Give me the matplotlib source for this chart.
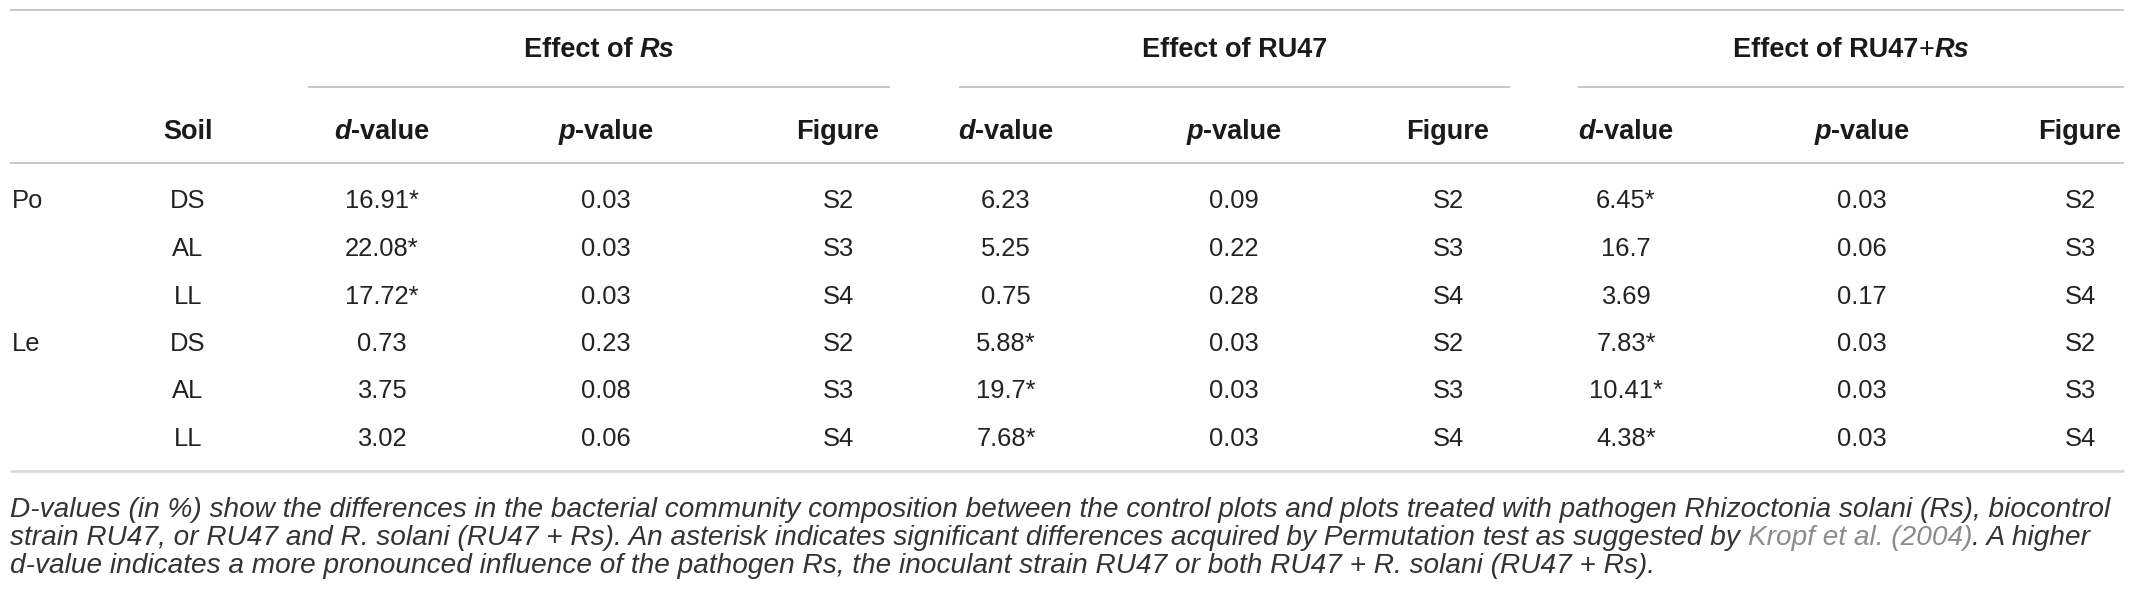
import matplotlib
matplotlib.use("Agg")
import matplotlib.pyplot as plt

# table content
groups = ["Rs", "RU47", "RU47+Rs"]
plants = ["Po", "", "", "Le", "", ""]
soils = ["DS", "AL", "LL", "DS", "AL", "LL"]
d_rs = ["16.91*", "22.08*", "17.72*", "0.73", "3.75", "3.02"]
p_rs = ["0.03", "0.03", "0.03", "0.23", "0.08", "0.06"]
d_ru = ["6.23", "5.25", "0.75", "5.88*", "19.7*", "7.68*"]
p_ru = ["0.09", "0.22", "0.28", "0.03", "0.03", "0.03"]
d_both = ["6.45*", "16.7", "3.69", "7.83*", "10.41*", "4.38*"]
p_both = ["0.03", "0.06", "0.17", "0.03", "0.03", "0.03"]
figs = ["S2", "S3", "S4", "S2", "S3", "S4"]

caption = [
    [("D-values (in %) show the differences in the bacterial community composition between the control "
      "plots and plots treated with pathogen Rhizoctonia solani (Rs), biocontrol", None)],
    [("strain RU47, or RU47 and R. solani (RU47 + Rs). An asterisk indicates significant differences "
      "acquired by Permutation test as suggested by ", None),
     ("Kropf et al. (2004)", "#8c8c8c"),
     (". A higher", None)],
    [("d-value indicates a more pronounced influence of the pathogen Rs, the inoculant strain RU47 "
      "or both RU47 + R. solani (RU47 + Rs).", None)],
]

plt.rcParams['font.family'] = ['Liberation Sans', 'DejaVu Sans']

W, H = 2129, 600
TXT = "#222222"
RULE = "#b8b8b8"

fig = plt.figure(figsize=(W / 100, H / 100), dpi=100)
ax = fig.add_axes([0, 0, 1, 1])
ax.set_xlim(0, W)
ax.set_ylim(H, 0)
ax.axis("off")
renderer = fig.canvas.get_renderer()

body_fs = 18.4
head_fs = 19.5


def half_cap(fs):
    # half of the cap height in pixels, used to go from text centre to baseline
    return 0.36 * fs * 100 / 72


def rich(x, y, parts, ha="center", fs=body_fs, weight="normal", base_style="normal", color=TXT):
    """place a run of text segments on one baseline"""
    texts = []
    for s, st in parts:
        t = ax.text(0, y, s, fontsize=fs, color=st.get("color", color),
                    fontweight=st.get("weight", weight),
                    fontstyle=st.get("style", base_style),
                    ha="left", va="baseline")
        texts.append(t)
    widths = [t.get_window_extent(renderer).width for t in texts]
    total = sum(widths)
    if ha == "center":
        start = x - total / 2
    elif ha == "right":
        start = x - total
    else:
        start = x
    for t, w in zip(texts, widths):
        t.set_x(start)
        start += w
    return total


def hline(x0, x1, y, color=RULE, lw=1.1):
    ax.plot([x0, x1], [y, y], color=color, lw=lw, solid_capstyle="butt")


# layout (pixels)
left, right = 10, 2124
soil_x = 188
col_x = [(382, 606, 838), (1006, 1234, 1448), (1626, 1862, 2080)]
under = [(308, 890), (959, 1510), (1578, 2124)]

y_top, y_grp, y_under, y_head, y_headline = 10, 47, 87, 129, 163
row_y = [199, 247, 295, 342, 389, 437]
y_bottom = 471
cap_base = [517, 545, 573]

# rules
hline(left, right, y_top)
hline(left, right, y_headline)
hline(left, right, y_bottom, color="#d6d6d6", lw=1.8)
for x0, x1 in under:
    hline(x0, x1, y_under)

# group headers
grp_parts = [
    [("Effect of ", {}), ("Rs", {"style": "italic"})],
    [("Effect of RU47", {})],
    [("Effect of RU47", {}), ("+", {"weight": "normal"}), ("Rs", {"style": "italic"})],
]
for (x0, x1), parts in zip(under, grp_parts):
    rich((x0 + x1) / 2, y_grp + half_cap(head_fs), parts, fs=head_fs, weight="bold", color="#1a1a1a")

# column headers
yh = y_head + half_cap(head_fs)
rich(soil_x, yh, [("Soil", {})], fs=head_fs, weight="bold", color="#1a1a1a")
for cx in col_x:
    rich(cx[0], yh, [("d", {"style": "italic"}), ("-value", {})], fs=head_fs, weight="bold", color="#1a1a1a")
    rich(cx[1], yh, [("p", {"style": "italic"}), ("-value", {})], fs=head_fs, weight="bold", color="#1a1a1a")
    rich(cx[2], yh, [("Figure", {})], fs=head_fs, weight="bold", color="#1a1a1a")

# body
cols = [(d_rs, p_rs), (d_ru, p_ru), (d_both, p_both)]
for i, y in enumerate(row_y):
    yb = y + half_cap(body_fs)
    if plants[i]:
        rich(left + 2, yb, [(plants[i], {})], ha="left")
    rich(soil_x, yb, [(soils[i], {})])
    for (dv, pv), cx in zip(cols, col_x):
        rich(cx[0], yb, [(dv[i], {})])
        rich(cx[1], yb, [(pv[i], {})])
        rich(cx[2], yb, [(figs[i], {})])

# caption: scale the italic size so the first line fills the width
probe = ax.text(0, 0, caption[0][0][0], fontsize=10, fontstyle="italic")
w10 = probe.get_window_extent(renderer).width
probe.remove()
cap_size = 10 * (right - left - 6) / w10
for line, yb in zip(caption, cap_base):
    parts = [(s, {"color": c} if c else {}) for s, c in line]
    rich(left, yb, parts, ha="left", fs=cap_size, base_style="italic", color="#333333")

fig.savefig("out.png", dpi=100, facecolor="white")
